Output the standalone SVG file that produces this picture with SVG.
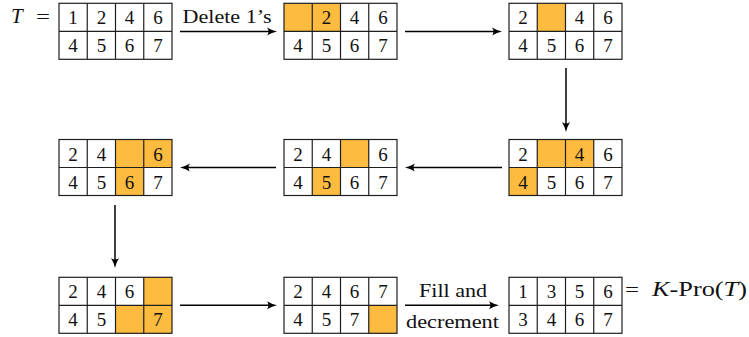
<svg xmlns="http://www.w3.org/2000/svg" width="749" height="337" viewBox="0 0 749 337">
<style>
.bg{fill:#fff}
.hl{fill:#FDBB40}
.grid{fill:none;stroke:#1f1f1f;stroke-width:1.2}
.d{font-family:"Liberation Serif","DejaVu Serif",serif;font-size:19px;fill:#111;text-anchor:middle}
.lbl{font-family:"Liberation Serif","DejaVu Serif",serif;font-size:19px;fill:#111}
.conn{fill:none;stroke:#000;stroke-width:1.5}
</style>
<defs>
<marker id="ah" markerUnits="userSpaceOnUse" markerWidth="10" markerHeight="10" viewBox="0 0 10 10" refX="6" refY="5" orient="auto">
<path d="M0,1 Q5,4 10,5 Q5,6 0,9 Q3,5 0,1 z" fill="#000"/>
</marker>
<g id="gridlines">
<rect class="grid" x="0" y="0" width="113" height="56"/>
<line class="grid" x1="0" y1="28" x2="113" y2="28"/>
<line class="grid" x1="28.25" y1="0" x2="28.25" y2="56"/>
<line class="grid" x1="56.5" y1="0" x2="56.5" y2="56"/>
<line class="grid" x1="84.75" y1="0" x2="84.75" y2="56"/>
</g>
</defs>
<rect width="749" height="337" fill="#fff"/>

<g id="labelT">
<text class="lbl" x="11" y="23" style="font-size:21px"><tspan font-style="italic">T</tspan></text>
<text class="lbl" x="36" y="23" textLength="14" lengthAdjust="spacingAndGlyphs">=</text>
</g>

<!-- A -->
<g id="tA" transform="translate(59,3.3)">
<rect class="bg" width="113" height="56"/>
<use href="#gridlines"/>
<text class="d" x="14.1" y="21">1</text><text class="d" x="42.4" y="21">2</text><text class="d" x="70.6" y="21">4</text><text class="d" x="98.9" y="21">6</text>
<text class="d" x="14.1" y="49">4</text><text class="d" x="42.4" y="49">5</text><text class="d" x="70.6" y="49">6</text><text class="d" x="98.9" y="49">7</text>
</g>

<!-- B -->
<g id="tB" transform="translate(284,3.3)">
<rect class="bg" width="113" height="56"/>
<rect class="hl" x="0" y="0" width="56.5" height="28"/>
<use href="#gridlines"/>
<text class="d" x="42.4" y="21">2</text><text class="d" x="70.6" y="21">4</text><text class="d" x="98.9" y="21">6</text>
<text class="d" x="14.1" y="49">4</text><text class="d" x="42.4" y="49">5</text><text class="d" x="70.6" y="49">6</text><text class="d" x="98.9" y="49">7</text>
</g>

<!-- C -->
<g id="tC" transform="translate(509,3.3)">
<rect class="bg" width="113" height="56"/>
<rect class="hl" x="28.25" y="0" width="28.25" height="28"/>
<use href="#gridlines"/>
<text class="d" x="14.1" y="21">2</text><text class="d" x="70.6" y="21">4</text><text class="d" x="98.9" y="21">6</text>
<text class="d" x="14.1" y="49">4</text><text class="d" x="42.4" y="49">5</text><text class="d" x="70.6" y="49">6</text><text class="d" x="98.9" y="49">7</text>
</g>

<!-- D -->
<g id="tD" transform="translate(509,139.5)">
<rect class="bg" width="113" height="56"/>
<rect class="hl" x="28.25" y="0" width="56.5" height="28"/>
<rect class="hl" x="0" y="28" width="28.25" height="28"/>
<use href="#gridlines"/>
<text class="d" x="14.1" y="21">2</text><text class="d" x="70.6" y="21">4</text><text class="d" x="98.9" y="21">6</text>
<text class="d" x="14.1" y="49">4</text><text class="d" x="42.4" y="49">5</text><text class="d" x="70.6" y="49">6</text><text class="d" x="98.9" y="49">7</text>
</g>

<!-- E -->
<g id="tE" transform="translate(284,139.5)">
<rect class="bg" width="113" height="56"/>
<rect class="hl" x="56.5" y="0" width="28.25" height="28"/>
<rect class="hl" x="28.25" y="28" width="28.25" height="28"/>
<use href="#gridlines"/>
<text class="d" x="14.1" y="21">2</text><text class="d" x="42.4" y="21">4</text><text class="d" x="98.9" y="21">6</text>
<text class="d" x="14.1" y="49">4</text><text class="d" x="42.4" y="49">5</text><text class="d" x="70.6" y="49">6</text><text class="d" x="98.9" y="49">7</text>
</g>

<!-- F -->
<g id="tF" transform="translate(59,139.5)">
<rect class="bg" width="113" height="56"/>
<rect class="hl" x="56.5" y="0" width="56.5" height="28"/>
<rect class="hl" x="56.5" y="28" width="28.25" height="28"/>
<use href="#gridlines"/>
<text class="d" x="14.1" y="21">2</text><text class="d" x="42.4" y="21">4</text><text class="d" x="98.9" y="21">6</text>
<text class="d" x="14.1" y="49">4</text><text class="d" x="42.4" y="49">5</text><text class="d" x="70.6" y="49">6</text><text class="d" x="98.9" y="49">7</text>
</g>

<!-- G -->
<g id="tG" transform="translate(59,277.3)">
<rect class="bg" width="113" height="56"/>
<rect class="hl" x="84.75" y="0" width="28.25" height="56"/>
<rect class="hl" x="56.5" y="28" width="28.25" height="28"/>
<use href="#gridlines"/>
<text class="d" x="14.1" y="21">2</text><text class="d" x="42.4" y="21">4</text><text class="d" x="70.6" y="21">6</text>
<text class="d" x="14.1" y="49">4</text><text class="d" x="42.4" y="49">5</text><text class="d" x="98.9" y="49">7</text>
</g>

<!-- H -->
<g id="tH" transform="translate(284,277.3)">
<rect class="bg" width="113" height="56"/>
<rect class="hl" x="84.75" y="28" width="28.25" height="28"/>
<use href="#gridlines"/>
<text class="d" x="14.1" y="21">2</text><text class="d" x="42.4" y="21">4</text><text class="d" x="70.6" y="21">6</text><text class="d" x="98.9" y="21">7</text>
<text class="d" x="14.1" y="49">4</text><text class="d" x="42.4" y="49">5</text><text class="d" x="70.6" y="49">7</text>
</g>

<!-- I -->
<g id="tI" transform="translate(509,277.3)">
<rect class="bg" width="113" height="56"/>
<use href="#gridlines"/>
<text class="d" x="14.1" y="21">1</text><text class="d" x="42.4" y="21">3</text><text class="d" x="70.6" y="21">5</text><text class="d" x="98.9" y="21">6</text>
<text class="d" x="14.1" y="49">3</text><text class="d" x="42.4" y="49">4</text><text class="d" x="70.6" y="49">6</text><text class="d" x="98.9" y="49">7</text>
</g>

<g id="labelKPro">
<text class="lbl" x="625" y="296" textLength="14" lengthAdjust="spacingAndGlyphs">=</text>
<text class="lbl" x="652" y="296" style="font-size:21px" textLength="95" lengthAdjust="spacingAndGlyphs"><tspan font-style="italic">K</tspan>-Pro(<tspan font-style="italic">T</tspan>)</text>
</g>

<g id="connectors">
<path class="conn" d="M180,31.5 H273" marker-end="url(#ah)"/>
<path class="conn" d="M405,31.5 H498" marker-end="url(#ah)"/>
<path class="conn" d="M566,68 V128" marker-end="url(#ah)"/>
<path class="conn" d="M502,167.5 H409" marker-end="url(#ah)"/>
<path class="conn" d="M276,167.5 H184" marker-end="url(#ah)"/>
<path class="conn" d="M115,205 V264" marker-end="url(#ah)"/>
<path class="conn" d="M180,305.3 H273" marker-end="url(#ah)"/>
<path class="conn" d="M405,305.3 H495" marker-end="url(#ah)"/>
<text class="lbl" x="182.5" y="22.5" textLength="89" lengthAdjust="spacingAndGlyphs">Delete 1’s</text>
<text class="lbl" x="419" y="296.5" textLength="68" lengthAdjust="spacingAndGlyphs">Fill and</text>
<text class="lbl" x="406" y="328" textLength="93" lengthAdjust="spacingAndGlyphs">decrement</text>
</g>
</svg>
